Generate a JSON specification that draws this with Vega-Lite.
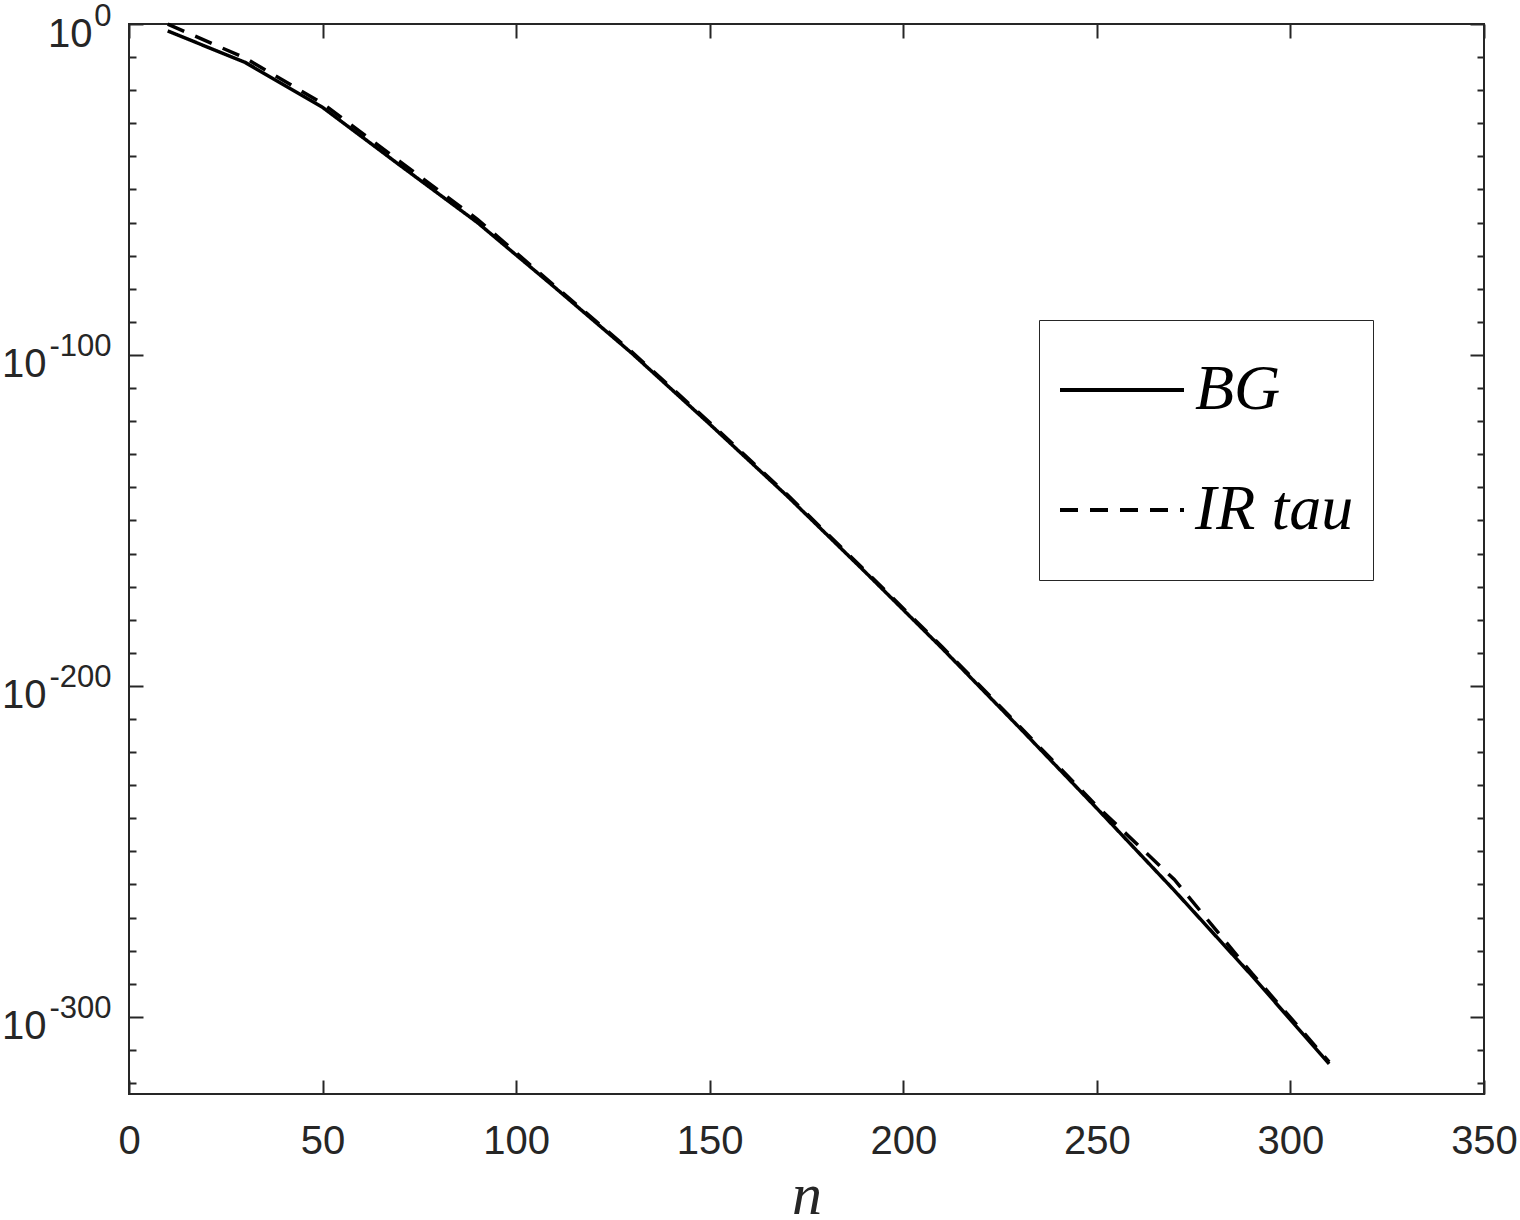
{
  "$schema": "https://vega.github.io/schema/vega-lite/v6.json",
  "width": 1355,
  "height": 1070,
  "autosize": "none",
  "padding": {"left": 129, "top": 24, "right": 36, "bottom": 126},
  "background": "white",
  "config": {
    "view": {"stroke": "#262626", "strokeWidth": 2},
    "axis": {"grid": false, "domain": false, "tickColor": "#262626", "tickWidth": 2, "labelColor": "#262626", "labelFont": "Liberation Sans", "titleColor": "#262626"}
  },
  "data": {
    "values": [
      {"n": 10, "value": 7.9e-3, "series": "BG"},
      {"n": 30, "value": 2.5e-12, "series": "BG"},
      {"n": 50, "value": 6.3e-26, "series": "BG"},
      {"n": 70, "value": 2.0e-43, "series": "BG"},
      {"n": 90, "value": 1.0e-60, "series": "BG"},
      {"n": 110, "value": 2.5e-80, "series": "BG"},
      {"n": 130, "value": 2.5e-100, "series": "BG"},
      {"n": 150, "value": 1.26e-121, "series": "BG"},
      {"n": 170, "value": 2.5e-143, "series": "BG"},
      {"n": 190, "value": 4.0e-166, "series": "BG"},
      {"n": 210, "value": 2.5e-189, "series": "BG"},
      {"n": 230, "value": 2.5e-213, "series": "BG"},
      {"n": 250, "value": 1.0e-237, "series": "BG"},
      {"n": 270, "value": 1.6e-262, "series": "BG"},
      {"n": 290, "value": 3.2e-288, "series": "BG"},
      {"n": 310, "value": 6.3e-315, "series": "BG"},
      {"n": 10, "value": 0.9, "series": "IR tau"},
      {"n": 30, "value": 5.0e-11, "series": "IR tau"},
      {"n": 50, "value": 1.0e-24, "series": "IR tau"},
      {"n": 70, "value": 2.5e-42, "series": "IR tau"},
      {"n": 90, "value": 1.0e-59, "series": "IR tau"},
      {"n": 110, "value": 6.3e-80, "series": "IR tau"},
      {"n": 130, "value": 6.3e-100, "series": "IR tau"},
      {"n": 150, "value": 4.0e-121, "series": "IR tau"},
      {"n": 170, "value": 6.3e-143, "series": "IR tau"},
      {"n": 190, "value": 1.0e-165, "series": "IR tau"},
      {"n": 210, "value": 6.3e-189, "series": "IR tau"},
      {"n": 230, "value": 6.3e-213, "series": "IR tau"},
      {"n": 250, "value": 5.0e-237, "series": "IR tau"},
      {"n": 270, "value": 3.2e-259, "series": "IR tau"},
      {"n": 290, "value": 1.6e-287, "series": "IR tau"},
      {"n": 310, "value": 2.5e-314, "series": "IR tau"}
    ]
  },
  "layer": [
    {
      "mark": {"type": "line", "color": "black", "strokeWidth": 3.5, "strokeCap": "butt"},
      "encoding": {
        "x": {"field": "n", "type": "quantitative", "scale": {"domain": [0, 350], "nice": false},
          "axis": {"orient": "bottom", "values": [0, 50, 100, 150, 200, 250, 300, 350], "ticks": false, "labelFontSize": 40, "labelBaseline": "alphabetic", "labelPadding": 59, "labelFlush": false, "labelOverlap": false,
            "title": "n", "titleFont": "Liberation Serif", "titleFontStyle": "italic", "titleFontWeight": "normal", "titleFontSize": 60, "titleBaseline": "alphabetic", "titleY": 119}},
        "y": {"field": "value", "type": "quantitative", "scale": {"type": "log", "domain": [5e-324, 1], "nice": false},
          "axis": {"orient": "left", "values": [1, 1e-100, 1e-200, 1e-300], "ticks": false, "labelExpr": "'10'", "labelFontSize": 40, "labelAlign": "right", "labelBaseline": "alphabetic",
            "labelPadding": {"condition": {"test": "datum.value === 1", "value": 37}, "value": 83},
            "labelOffset": 22, "labelOverlap": false, "title": null}},
        "strokeDash": {"field": "series", "type": "nominal",
          "scale": {"domain": ["BG", "IR tau"], "range": [[1, 0], [18, 12]]},
          "legend": {"orient": "none", "legendX": 910, "legendY": 296, "title": null, "symbolType": "stroke", "symbolSize": 15376, "symbolStrokeWidth": 4, "symbolStrokeColor": "black",
            "clipHeight": 102, "rowPadding": 18, "padding": 19, "labelOffset": 9, "labelFont": "Liberation Serif", "labelFontStyle": "italic", "labelFontSize": 64, "labelColor": "black", "labelLimit": 400,
            "strokeColor": "#262626", "fillColor": "white"}}
      }
    },
    {
      "mark": {"type": "line", "strokeOpacity": 0},
      "encoding": {
        "x": {"field": "n", "type": "quantitative", "scale": {"domain": [0, 350], "nice": false},
          "axis": {"orient": "bottom", "values": [0, 50, 100, 150, 200, 250, 300, 350], "labels": false, "ticks": true, "tickSize": -14, "title": null}},
        "y": {"field": "value", "type": "quantitative", "scale": {"type": "log", "domain": [5e-324, 1], "nice": false},
          "axis": {"orient": "left", "values": [1, 1e-100, 1e-200, 1e-300], "ticks": false, "labelExpr": "'' + round(log(datum.value) / LN10)", "labelFontSize": 31, "labelAlign": "right", "labelBaseline": "alphabetic", "labelPadding": 18, "labelOffset": 1, "labelOverlap": false, "title": null}},
        "detail": {"field": "series"}
      }
    },
    {
      "mark": {"type": "line", "strokeOpacity": 0},
      "encoding": {
        "x": {"field": "n", "type": "quantitative", "scale": {"domain": [0, 350], "nice": false},
          "axis": {"orient": "top", "values": [0, 50, 100, 150, 200, 250, 300, 350], "labels": false, "ticks": true, "tickSize": -14, "title": null}},
        "y": {"field": "value", "type": "quantitative", "scale": {"type": "log", "domain": [5e-324, 1], "nice": false},
          "axis": {"orient": "left", "values": [1, 1e-100, 1e-200, 1e-300], "labels": false, "ticks": true, "tickSize": -14, "title": null}},
        "detail": {"field": "series"}
      }
    },
    {
      "mark": {"type": "line", "strokeOpacity": 0},
      "encoding": {
        "x": {"field": "n", "type": "quantitative", "scale": {"domain": [0, 350], "nice": false}, "axis": null},
        "y": {"field": "value", "type": "quantitative", "scale": {"type": "log", "domain": [5e-324, 1], "nice": false},
          "axis": {"orient": "left", "values": [1e-10, 1e-20, 1e-30, 1e-40, 1e-50, 1e-60, 1e-70, 1e-80, 1e-90, 1e-110, 1e-120, 1e-130, 1e-140, 1e-150, 1e-160, 1e-170, 1e-180, 1e-190, 1e-210, 1e-220, 1e-230, 1e-240, 1e-250, 1e-260, 1e-270, 1e-280, 1e-290, 1e-310, 1e-320], "labels": false, "ticks": true, "tickSize": -7, "title": null}},
        "detail": {"field": "series"}
      }
    },
    {
      "mark": {"type": "line", "strokeOpacity": 0},
      "encoding": {
        "x": {"field": "n", "type": "quantitative", "scale": {"domain": [0, 350], "nice": false}, "axis": null},
        "y": {"field": "value", "type": "quantitative", "scale": {"type": "log", "domain": [5e-324, 1], "nice": false},
          "axis": {"orient": "right", "values": [1, 1e-100, 1e-200, 1e-300], "labels": false, "ticks": true, "tickSize": -14, "title": null}},
        "detail": {"field": "series"}
      }
    },
    {
      "mark": {"type": "line", "strokeOpacity": 0},
      "encoding": {
        "x": {"field": "n", "type": "quantitative", "scale": {"domain": [0, 350], "nice": false}, "axis": null},
        "y": {"field": "value", "type": "quantitative", "scale": {"type": "log", "domain": [5e-324, 1], "nice": false},
          "axis": {"orient": "right", "values": [1e-10, 1e-20, 1e-30, 1e-40, 1e-50, 1e-60, 1e-70, 1e-80, 1e-90, 1e-110, 1e-120, 1e-130, 1e-140, 1e-150, 1e-160, 1e-170, 1e-180, 1e-190, 1e-210, 1e-220, 1e-230, 1e-240, 1e-250, 1e-260, 1e-270, 1e-280, 1e-290, 1e-310, 1e-320], "labels": false, "ticks": true, "tickSize": -7, "title": null}},
        "detail": {"field": "series"}
      }
    }
  ],
  "resolve": {"axis": {"x": "independent", "y": "independent"}}
}
